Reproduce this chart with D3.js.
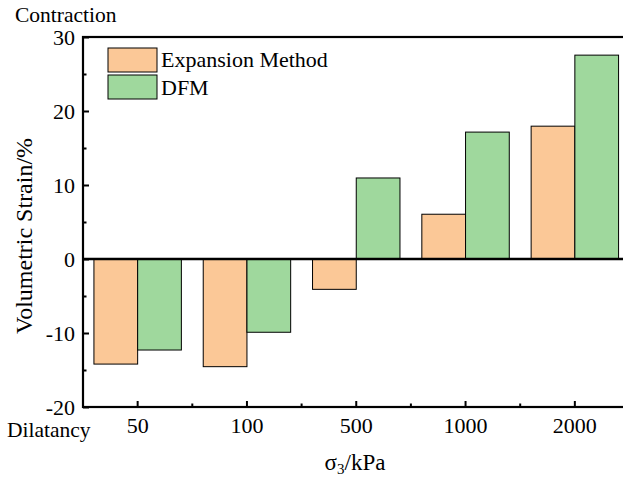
<!DOCTYPE html>
<html><head><meta charset="utf-8">
<script src="https://cdn.jsdelivr.net/npm/d3@7"></script>
<style>body{margin:0;background:#fff}svg{display:block}text{font-family:"Liberation Serif","Times New Roman",serif;fill:#000}</style>
</head><body>
<script>
const categories = ["50","100","500","1000","2000"];
const seriesNames = ["Expansion Method","DFM"];
const expansion = [-14.2, -14.55, -4.1, 6.05, 17.95];
const dfm = [-12.3, -9.9, 10.95, 17.15, 27.55];
const yTicks = [-20,-10,0,10,20,30];
const colors = ["#FBC897","#9FD89D"];

const W=623,H=478;
const svg=d3.select("body").append("svg").attr("width",W).attr("height",H);
const x=d3.scaleBand().domain(categories).range([83,629.5]).paddingInner(0.2).paddingOuter(0.1);
const xs=d3.scaleBand().domain(seriesNames).range([0,x.bandwidth()]);
const y=d3.scaleLinear().domain([-20,30]).range([407,37]);

const data=categories.map((c,i)=>({c,vals:[expansion[i],dfm[i]]}));
const g=svg.append("g");
data.forEach(d=>{
  d.vals.forEach((v,j)=>{
    g.append("rect")
      .attr("x",x(d.c)+xs(seriesNames[j]))
      .attr("y",y(Math.max(0,v)))
      .attr("width",xs.bandwidth())
      .attr("height",Math.abs(y(v)-y(0)))
      .attr("fill",colors[j]).attr("stroke","#000").attr("stroke-width",1);
  });
});
svg.append("line").attr("x1",83).attr("x2",629.5).attr("y1",y(0)).attr("y2",y(0)).attr("stroke","#000").attr("stroke-width",2.5);
svg.append("rect").attr("x",83).attr("y",37).attr("width",629.5-83).attr("height",370).attr("fill","none").attr("stroke","#000").attr("stroke-width",2.2);

const ya=d3.axisLeft(y).tickValues(yTicks).tickSize(-6).tickPadding(8).tickFormat(d=>String(d));
const yg=svg.append("g").attr("transform","translate(83,0)").call(ya);
yg.attr("font-family",null);
yg.select(".domain").remove();
yg.selectAll(".tick line").attr("stroke-width",2);
yg.selectAll(".tick text").style("font-size","22px").attr("dy","0.33em");
const yMinor=[-15,-5,5,15,25];
const ym=svg.append("g").attr("transform","translate(83,0)").call(d3.axisLeft(y).tickValues(yMinor).tickSize(-3.5).tickFormat(""));
ym.select(".domain").remove();
ym.selectAll(".tick line").attr("stroke-width",2);

const xa=d3.axisBottom(x).tickSize(-6).tickPadding(10);
const xg=svg.append("g").attr("transform","translate(0,407)").call(xa);
xg.attr("font-family",null);
xg.select(".domain").remove();
xg.selectAll(".tick line").attr("stroke-width",2);
xg.selectAll(".tick text").style("font-size","22px");
const minorX=categories.slice(0,-1).map(c=>x(c)+x.step()/2+x.bandwidth()/2);
svg.append("g").selectAll("line").data(minorX).join("line")
  .attr("x1",d=>d).attr("x2",d=>d).attr("y1",407).attr("y2",403.5).attr("stroke","#000").attr("stroke-width",2);

svg.append("text").attr("x",15).attr("y",22).style("font-size","21.5px").text("Contraction");
svg.append("text").attr("x",7).attr("y",437).style("font-size","21.5px").text("Dilatancy");
svg.append("text").attr("transform","translate(32,236) rotate(-90)").attr("text-anchor","middle").style("font-size","24px").text("Volumetric Strain/%");
const xt=svg.append("text").attr("x",355).attr("y",470).attr("text-anchor","middle").style("font-size","23px");
xt.append("tspan").text("σ");
xt.append("tspan").attr("dy",4).style("font-size","15px").text("3");
xt.append("tspan").attr("dy",-4).text("/kPa");

const lg=svg.append("g");
seriesNames.forEach((s,i)=>{
  lg.append("rect").attr("x",108).attr("y",48+i*27).attr("width",49).attr("height",24).attr("fill",colors[i]).attr("stroke","#000").attr("stroke-width",1);
  lg.append("text").attr("x",161).attr("y",67+i*28).style("font-size","22px").text(s);
});
</script>
</body></html>
